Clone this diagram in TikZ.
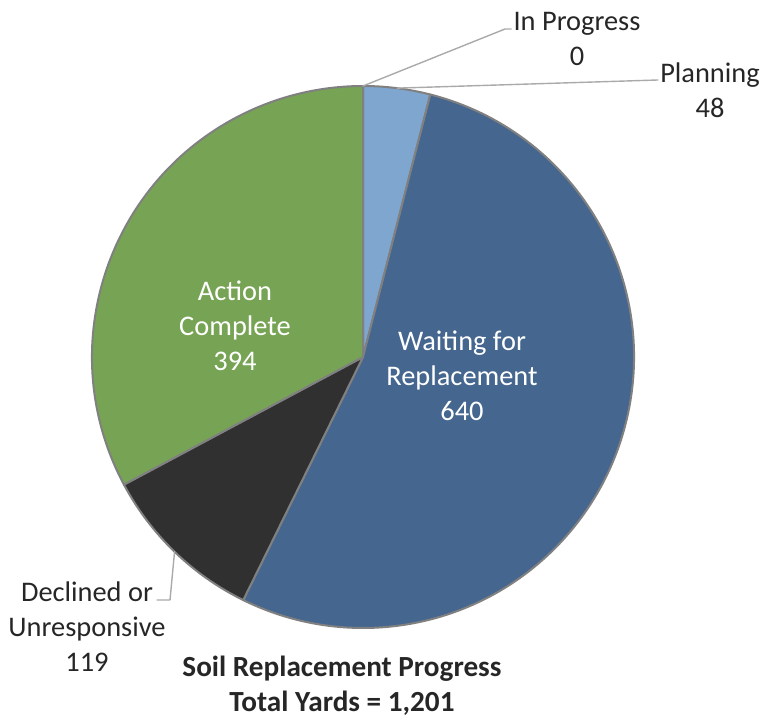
\documentclass[tikz,border=0pt]{standalone}
\usepackage{fontspec}
\setmainfont{Carlito}
\definecolor{planblue}{RGB}{126,166,206}
\definecolor{waitblue}{RGB}{68,102,143}
\definecolor{declgray}{RGB}{48,48,48}
\definecolor{actgreen}{RGB}{118,164,84}
\definecolor{rimgray}{RGB}{128,128,128}
\definecolor{leadgray}{RGB}{170,170,170}
\begin{document}
\begin{tikzpicture}[x=0.5pt, y=0.5pt, line join=round, line cap=round,
	lbl/.style={align=center, inner sep=1pt, font=\fontsize{14.2}{17.5}\selectfont, text=black!85},
	inlbl/.style={lbl, text=white},
	leader/.style={draw=leadgray, line width=0.7pt}]
	\useasboundingbox (0,0) rectangle (761,719);
	\def\r{271}
	\coordinate (O) at (363,362);
	\foreach \a/\b/\c in {90/75.612/planblue, 75.612/-116.228/waitblue, -116.228/-151.898/declgray, -151.898/-270/actgreen}
	\filldraw[fill=\c, draw=rimgray, line width=1pt] (O) -- ++(\a:\r) arc[start angle=\a, end angle=\b, radius=\r] -- cycle;
	\node[inlbl] (act) at (235,393.5) {Action\\Complete\\394};
	\node[inlbl] (wait) at (462,343) {Waiting for\\Replacement\\640};
	\node[lbl] (ipl) at (577,680.5) {In Progress\\0};
	\node[lbl] (pl) at (710,629) {Planning\\48};
	\node[lbl] (dcl) at (87,92) {Declined or\\Unresponsive\\119};
	\node[lbl, font=\bfseries\fontsize{14.6}{17.5}\selectfont] (ttl) at (342,33) {Soil Replacement Progress\\Total Yards = 1,201};
	% leader lines
	\path (O) ++(90:\r) coordinate (ipr) (O) ++(82.8:\r) coordinate (plr) (O) ++(-134.06:\r) coordinate (dcr);
	\coordinate (ipk) at (505,690);
	\coordinate (plk) at (658,639);
	\coordinate (dck) at (170,119);
	\coordinate (dce) at (157,119);
	\draw[leader] (ipr) -- (ipk) -- (ipk -| ipl.west);
	\draw[leader] (plr) -- (plk -| pl.west);
	\draw[leader] (dcr) -- (dck) -- (dce);
\end{tikzpicture}
\end{document}
